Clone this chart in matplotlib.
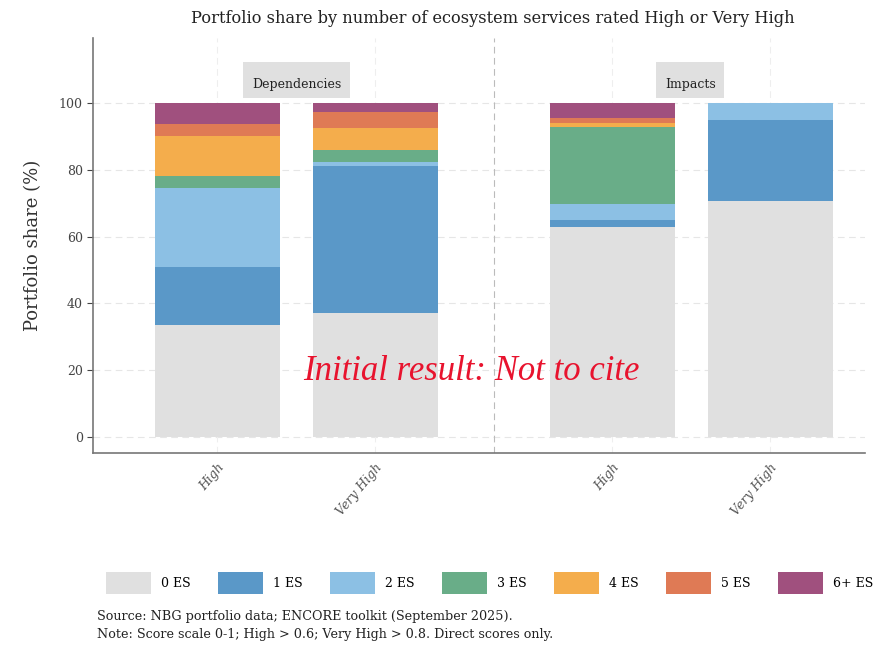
import matplotlib.pyplot as plt
import numpy as np
from matplotlib.patches import Patch, Rectangle

plt.rcParams['font.family'] = ['DejaVu Serif']

# data (portfolio share, %)
bar_labels = ["High", "Very High", "High", "Very High"]
groups = ["Dependencies", "Impacts"]
es_levels = ["0 ES", "1 ES", "2 ES", "3 ES", "4 ES", "5 ES", "6+ ES"]
es_colors = ["#e0e0e0", "#5a98c8", "#8cc0e4", "#69ad88", "#f4ad4c", "#df7a55", "#a0507e"]

share_0 = [33.4, 37.1, 62.7, 70.6]
share_1 = [17.5, 43.9, 2.3, 24.4]
share_2 = [23.5, 1.4, 4.6, 5.0]
share_3 = [3.7, 3.6, 23.2, 0.0]
share_4 = [11.9, 6.4, 1.2, 0.0]
share_5 = [3.7, 4.8, 1.5, 0.0]
share_6 = [6.3, 2.8, 4.5, 0.0]
shares = [share_0, share_1, share_2, share_3, share_4, share_5, share_6]

xpos = np.array([0, 1, 2.5, 3.5])

fig = plt.figure(figsize=(8.79, 6.5), dpi=100)
ax = fig.add_axes([0.106, 0.303, 0.878, 0.639])

bottom = np.zeros(4)
for vals, col, lab in zip(shares, es_colors, es_levels):
    ax.bar(xpos, vals, bottom=bottom, width=0.79, color=col, label=lab, zorder=3)
    bottom += np.array(vals)

ax.set_xlim(-0.785, 4.1)
ax.set_ylim(-4.8, 119.5)
ax.set_yticks([0, 20, 40, 60, 80, 100])
ax.set_xticks(xpos)
ax.set_xticklabels(bar_labels, rotation=50, ha='right', rotation_mode='anchor',
                   style='italic', color='#555555', fontsize=9)
ax.tick_params(axis='x', length=0, pad=6)
ax.tick_params(axis='y', labelsize=9, colors='#444444', length=4, width=0.8)

for y in [0, 20, 40, 60, 80, 100]:
    ax.axhline(y, color='#e6e6e6', ls=(0, (6, 4)), lw=0.8, zorder=1)
for x in xpos:
    ax.axvline(x, color='#eeeeee', ls=(0, (6, 4)), lw=0.8, zorder=1)
ax.axvline(1.75, color='#bbbbbb', ls=(0, (6, 4)), lw=0.8, zorder=1)

for sp in ['top', 'right']:
    ax.spines[sp].set_visible(False)
for sp in ['left', 'bottom']:
    ax.spines[sp].set_color('#777777')
    ax.spines[sp].set_linewidth(1.2)

ax.set_ylabel("Portfolio share (%)", fontsize=13, color='#333333', labelpad=12)

# facet strip labels
strip_x = [(0.165, 0.84), (2.78, 3.21)]
for (x0, x1), g in zip(strip_x, groups):
    ax.add_patch(Rectangle((x0, 101.5), x1 - x0, 10.8, fc='#e0e0e0', ec='none', zorder=4))
    ax.text((x0 + x1) / 2, 105.6, g, ha='center', va='center', fontsize=9,
            color='#222222', zorder=5)

ax.text(1.61, 19.5, "Initial result: Not to cite", ha='center', va='center',
        fontsize=25, style='italic', color='#e8132e', zorder=5,
        family='Liberation Serif')

fig.text(0.561, 0.972, "Portfolio share by number of ecosystem services rated High or Very High",
         ha='center', va='center', fontsize=11.7, color='#222222')

handles = [Patch(facecolor=c, edgecolor='none') for c in es_colors]
fig.legend(handles, es_levels, loc='center', bbox_to_anchor=(0.557, 0.103), ncol=7,
           frameon=False, fontsize=9, handlelength=3.6, handleheight=2.3,
           columnspacing=2.2, handletextpad=0.8)

fig.text(0.11, 0.046, "Source: NBG portfolio data; ENCORE toolkit (September 2025).",
         fontsize=9.2, color='#222222')
fig.text(0.11, 0.018, "Note: Score scale 0-1; High > 0.6; Very High > 0.8. Direct scores only.",
         fontsize=9.2, color='#222222')

fig.savefig("out.png", dpi=100)
